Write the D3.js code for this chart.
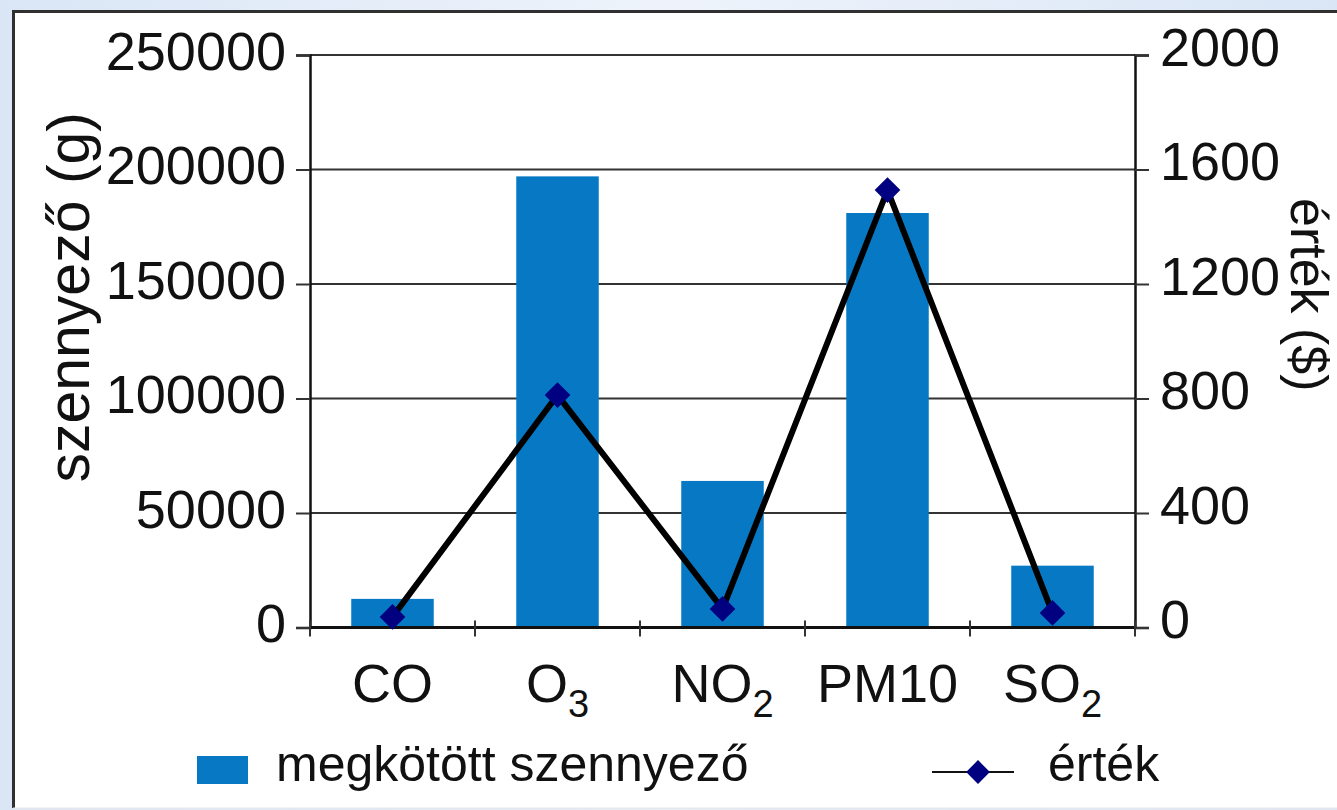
<!DOCTYPE html>
<html>
<head>
<meta charset="utf-8">
<script src="https://cdn.jsdelivr.net/npm/d3@7"></script>
<style>
  html, body { margin: 0; padding: 0; background: #dfe9f7; }
  svg { display: block; font-family: "Liberation Sans", Arial, sans-serif; }
</style>
</head>
<body>
<svg id="chart" width="1337" height="810"></svg>
<script>
// Pollutant categories (main text + subscript)
const categories = ["CO", "O3", "NO2", "PM10", "SO2"];
const categoryMain = ["CO", "O", "NO", "PM10", "SO"];
const categorySub = ["", "3", "2", "", "2"];

// Captured pollutant mass (g) — bars, left axis
const capturedGrams = [12500, 197000, 64000, 181000, 27000];
// Value ($) — line, right axis
const valueDollars = [37, 812, 65, 1528, 51];

const leftTicks = [0, 50000, 100000, 150000, 200000, 250000];
const rightTicks = [0, 400, 800, 1200, 1600, 2000];

const seriesNames = ["megkötött szennyező", "érték"];
const leftTitle = "szennyező (g)";
const rightTitle = "érték ($)";

const svg = d3.select("#chart");

// page background
const defs = svg.append("defs");
const grad = defs.append("linearGradient").attr("id", "bg").attr("x1", 0).attr("y1", 0).attr("x2", 1).attr("y2", 0);
grad.append("stop").attr("offset", "0%").attr("stop-color", "#dae6f6");
grad.append("stop").attr("offset", "50%").attr("stop-color", "#eef3fb");
grad.append("stop").attr("offset", "100%").attr("stop-color", "#dae6f6");
svg.append("rect").attr("width", 1337).attr("height", 810).attr("fill", "url(#bg)");

// white panel
svg.append("rect").attr("x", 12).attr("y", 10).attr("width", 1340).attr("height", 798)
  .attr("fill", "#ffffff");
svg.append("path").attr("d", "M13.5,808 V11.5 H1337")
  .attr("fill", "none").attr("stroke", "#303030").attr("stroke-width", 3);
svg.append("line").attr("x1", 13).attr("x2", 1337).attr("y1", 808.5).attr("y2", 808.5)
  .attr("stroke", "#e4e8ee").attr("stroke-width", 2);

const plotLeft = 310, plotRight = 1135, plotTop = 55, plotBottom = 627.5;

const x = d3.scaleBand().domain(categories).range([plotLeft, plotRight])
  .paddingInner(0.5).paddingOuter(0.25);
const yL = d3.scaleLinear().domain([0, 250000]).range([plotBottom, plotTop]);
const yR = d3.scaleLinear().domain([0, 2000]).range([plotBottom, plotTop]);

// gridlines
svg.append("g").selectAll("line").data(leftTicks.filter(d => d > 0)).join("line")
  .attr("x1", plotLeft).attr("x2", plotRight)
  .attr("y1", d => yL(d)).attr("y2", d => yL(d))
  .attr("stroke", "#333").attr("stroke-width", 2.2);

// bars
svg.append("g").selectAll("rect").data(categories).join("rect")
  .attr("x", d => x(d))
  .attr("width", x.bandwidth())
  .attr("y", (d, i) => yL(capturedGrams[i]))
  .attr("height", (d, i) => plotBottom - yL(capturedGrams[i]))
  .attr("fill", "#0779c4");

// left axis
const leftAxis = d3.axisLeft(yL).tickValues(leftTicks).tickSize(14).tickFormat(d3.format("d"));
const gl = svg.append("g").attr("transform", `translate(${plotLeft},0)`).call(leftAxis);
gl.select(".domain").attr("stroke", "#111").attr("stroke-width", 2.5);
gl.selectAll(".tick line").attr("stroke", "#333").attr("stroke-width", 2);
gl.selectAll(".tick text").attr("font-size", 54).attr("fill", "#111")
  .attr("font-family", "Liberation Sans, Arial, sans-serif")
  .attr("x", -24).attr("dy", 14);

// right axis
const rightAxis = d3.axisRight(yR).tickValues(rightTicks).tickSize(14).tickFormat(d3.format("d"));
const gr = svg.append("g").attr("transform", `translate(${plotRight},0)`).call(rightAxis);
gr.select(".domain").attr("stroke", "#111").attr("stroke-width", 2.5);
gr.selectAll(".tick line").attr("stroke", "#333").attr("stroke-width", 2);
gr.selectAll(".tick text").attr("font-size", 54).attr("fill", "#111")
  .attr("font-family", "Liberation Sans, Arial, sans-serif")
  .attr("x", 25).attr("dy", 10);

// bottom axis line with boundary ticks
svg.append("line").attr("x1", plotLeft).attr("x2", plotRight)
  .attr("y1", plotBottom).attr("y2", plotBottom)
  .attr("stroke", "#111").attr("stroke-width", 3);
const step = x.step();
const boundaries = d3.range(categories.length + 1).map(i => plotLeft + i * step);
svg.append("g").selectAll("line").data(boundaries).join("line")
  .attr("x1", d => d).attr("x2", d => d)
  .attr("y1", plotBottom - 7).attr("y2", plotBottom + 9)
  .attr("stroke", "#333").attr("stroke-width", 2);

// category labels
const catText = svg.append("g").selectAll("text").data(categories).join("text")
  .attr("x", d => x(d) + x.bandwidth() / 2)
  .attr("y", 702)
  .attr("text-anchor", "middle")
  .attr("font-size", 54).attr("fill", "#111");
catText.append("tspan").text((d, i) => categoryMain[i]);
catText.append("tspan").text((d, i) => categorySub[i])
  .attr("font-size", 38).attr("dy", 15);

// value line
const line = d3.line()
  .x((d, i) => x(categories[i]) + x.bandwidth() / 2)
  .y(d => yR(d));
svg.append("path").datum(valueDollars).attr("d", line)
  .attr("fill", "none").attr("stroke", "#000").attr("stroke-width", 6)
  .attr("stroke-linejoin", "miter");

const diamond = d3.symbol().type(d3.symbolDiamond2).size(420);
svg.append("g").selectAll("path").data(valueDollars).join("path")
  .attr("transform", (d, i) => `translate(${x(categories[i]) + x.bandwidth() / 2},${yR(d)})`)
  .attr("d", diamond)
  .attr("fill", "#000080");

// axis titles
svg.append("text")
  .attr("transform", "translate(89,112) rotate(-90)")
  .attr("text-anchor", "end")
  .attr("font-size", 59).attr("fill", "#111")
  .text(leftTitle);
svg.append("text")
  .attr("transform", "translate(1291,198) rotate(90)")
  .attr("text-anchor", "start")
  .attr("font-size", 52).attr("fill", "#111")
  .text(rightTitle);

// legend
svg.append("rect").attr("x", 197).attr("y", 756).attr("width", 51).attr("height", 28)
  .attr("fill", "#0779c4");
svg.append("text").attr("x", 276).attr("y", 781)
  .attr("font-size", 50).attr("fill", "#111").text(seriesNames[0]);
svg.append("line").attr("x1", 932).attr("x2", 1014).attr("y1", 772).attr("y2", 772)
  .attr("stroke", "#111").attr("stroke-width", 2);
svg.append("path").attr("transform", "translate(978,772)")
  .attr("d", d3.symbol().type(d3.symbolDiamond2).size(360)).attr("fill", "#000080");
svg.append("text").attr("x", 1048).attr("y", 781)
  .attr("font-size", 50).attr("fill", "#111").text(seriesNames[1]);
</script>
</body>
</html>
